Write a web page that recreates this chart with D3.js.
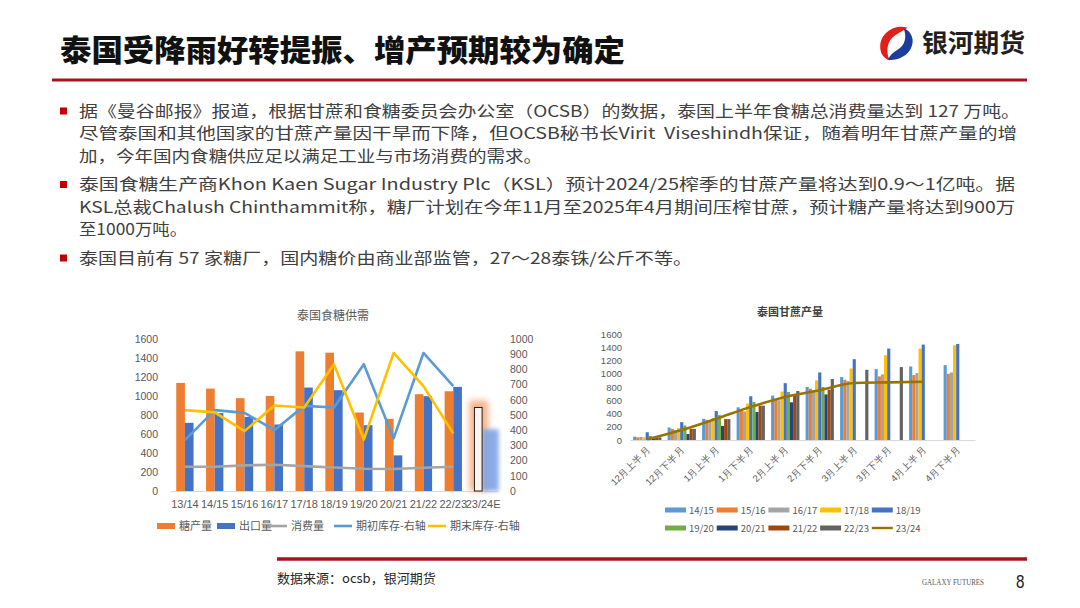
<!DOCTYPE html>
<html>
<head>
<meta charset="utf-8">
<script src="https://cdn.jsdelivr.net/npm/d3@7"></script>
<style>
  html, body { margin: 0; padding: 0; background: #fff; }
  svg { display: block; font-family: "Microsoft YaHei", "Noto Sans CJK SC", "Noto Sans", sans-serif; }
</style>
</head>
<body>
<svg id="page" width="1080" height="608"></svg>
<script>
// ---------- page text ----------
const pageTitle = "泰国受降雨好转提振、增产预期较为确定";
const logoText = "银河期货";
const paragraphs = [
  ["据《曼谷邮报》报道，根据甘蔗和食糖委员会办公室（OCSB）的数据，泰国上半年食糖总消费量达到 127 万吨。",
   "尽管泰国和其他国家的甘蔗产量因干旱而下降，但OCSB秘书长Virit  Viseshindh保证，随着明年甘蔗产量的增",
   "加，今年国内食糖供应足以满足工业与市场消费的需求。"],
  ["泰国食糖生产商Khon Kaen Sugar Industry Plc（KSL）预计2024/25榨季的甘蔗产量将达到0.9～1亿吨。据",
   "KSL总裁Chalush Chinthammit称，糖厂计划在今年11月至2025年4月期间压榨甘蔗，预计糖产量将达到900万",
   "至1000万吨。"],
  ["泰国目前有 57 家糖厂，国内糖价由商业部监管，27～28泰铢/公斤不等。"]
];
// visible line widths (justified lines run to the right margin)
const lineWidths = [[941, 938, 463], [936, 936, 108], [613]];
const sourceText = "数据来源：ocsb，银河期货";
const pageNumber = "8";

// ---------- left chart: 泰国食糖供需 ----------
const supplyTitle = "泰国食糖供需";
const seasons = ["13/14", "14/15", "15/16", "16/17", "17/18", "18/19", "19/20", "20/21", "21/22", "22/23", "23/24E"];
const sugarOutput = [1138, 1078, 977, 1001, 1470, 1456, 826, 760, 1019, 1050, 879];
const sugarExport = [718, 820, 780, 700, 1089, 1061, 693, 375, 998, 1096, 650];
const consumption = [255, 255, 270, 277, 262, 248, 234, 231, 245, 255, null];
const openStock = [335, 532, 514, 400, 560, 549, 834, 346, 908, 690, null];
const closeStock = [532, 517, 394, 563, 549, 834, 339, 908, 690, 379, null];
const leftTicks = [0, 200, 400, 600, 800, 1000, 1200, 1400, 1600];
const rightTicks = [0, 100, 200, 300, 400, 500, 600, 700, 800, 900, 1000];
const supplyLegend = ["糖产量", "出口量", "消费量", "期初库存-右轴", "期末库存-右轴"];

// ---------- right chart: 泰国甘蔗产量 ----------
const caneTitle = "泰国甘蔗产量";
const halfMonths = ["12月上半月", "12月下半月", "1月上半月", "1月下半月", "2月上半月",
                    "2月下半月", "3月上半月", "3月下半月", "4月上半月", "4月下半月"];
const caneSeasons = ["14/15", "15/16", "16/17", "17/18", "18/19", "19/20", "20/21", "21/22", "22/23"];
const cane1415 = [50, 188, 320, 493, 670, 800, 950, 1070, 1110, 1130];
const cane1516 = [40, 168, 305, 457, 610, 775, 910, 960, 980, 1000];
const cane1617 = [45, 150, 275, 432, 600, 745, 890, 990, 1010, 1020];
const cane1718 = [40, 178, 330, 549, 731, 900, 1080, 1280, 1380, 1430];
const cane1819 = [117, 270, 437, 660, 858, 1020, 1220, 1380, 1440, 1450];
const cane1920 = [60, 218, 376, 574, 725, 800, null, null, null, null];
const cane2021 = [25, 90, 213, 422, 569, 688, null, null, null, null];
const cane2122 = [30, 168, 315, 518, 680, 760, null, null, null, null];
const cane2223 = [40, 168, 315, 518, 740, 920, 1060, 1100, null, null];
const cane2324 = [10, 150, 320, 500, 650, 750, 860, 870, 880, null];
const caneTicks = [0, 200, 400, 600, 800, 1000, 1200, 1400, 1600];

const caneBars = [cane1415, cane1516, cane1617, cane1718, cane1819, cane1920, cane2021, cane2122, cane2223];
const caneColors = ["#5B9BD5", "#ED7D31", "#A5A5A5", "#FFC000", "#4472C4", "#70AD47", "#264478", "#9E480E", "#636363"];
const lineColor2324 = "#997300";

const svg = d3.select("#page");
const red = "#A8141C";
const labelGray = "#595959";
const fmt = d3.format("d");

const defs = svg.append("defs");
defs.append("filter").attr("id", "blurBig").attr("x", "-80%").attr("y", "-30%").attr("width", "260%").attr("height", "160%")
  .append("feGaussianBlur").attr("stdDeviation", 3.2);
defs.append("filter").attr("id", "blurSmall").attr("x", "-80%").attr("y", "-30%").attr("width", "260%").attr("height", "160%")
  .append("feGaussianBlur").attr("stdDeviation", 2.2);

// ---------- header ----------
svg.append("text")
  .attr("x", 60).attr("y", 61)
  .attr("font-size", 30).attr("font-weight", 900)
  .attr("fill", "#111")
  .attr("textLength", 565).attr("lengthAdjust", "spacingAndGlyphs")
  .text(pageTitle);

svg.append("line").attr("x1", 52).attr("x2", 1027).attr("y1", 80).attr("y2", 80)
  .attr("stroke", red).attr("stroke-width", 3);

// logo swirl
const logo = svg.append("g").attr("transform", "translate(896,43) rotate(-10)");
logo.append("path")
  .attr("d", "M14,-13 C4,-19 -13,-14 -16,0 C-18,8 -14,14 -9,16 C-12,8 -9,-4 1,-8 C6,-10 10,-11 14,-13 Z")
  .attr("fill", "#E0201B");
logo.append("path")
  .attr("d", "M-11,15 C0,19 16,13 17,-1 C17,-7 14,-11 10,-13 C12,-5 9,4 0,7 C-5,9 -8,11 -11,15 Z")
  .attr("fill", "#1D3D9C");
svg.append("text")
  .attr("x", 922).attr("y", 52)
  .attr("font-size", 25).attr("font-weight", 700)
  .attr("fill", "#231F20")
  .attr("textLength", 103).attr("lengthAdjust", "spacingAndGlyphs")
  .text(logoText);

// ---------- bullets ----------
const lineGap = 22.5, paraGap = 28.5;
let cy = 111;
paragraphs.forEach((lines, p) => {
  svg.append("rect").attr("x", 60).attr("y", cy - 3.5).attr("width", 7).attr("height", 7).attr("fill", "#C00000");
  lines.forEach((t, i) => {
    const last = i === lines.length - 1;
    svg.append("text")
      .attr("x", 79).attr("y", cy + 5.5)
      .attr("font-size", 15.5)
      .attr("fill", "#404040")
      .style("white-space", "pre")
      .attr("textLength", lineWidths[p][i]).attr("lengthAdjust", "spacingAndGlyphs")
      .text(t);
    cy += last ? paraGap : lineGap;
  });
});

// ---------- left chart ----------
const L = svg.append("g");
const xL = d3.scaleBand().domain(seasons).range([170, 498]).paddingInner(0.42).paddingOuter(0.21);
const xLs = d3.scaleBand().domain(["out", "exp"]).range([0, xL.bandwidth()]);
const yL = d3.scaleLinear().domain([0, 1600]).range([491, 339]);
const yLR = d3.scaleLinear().domain([0, 1000]).range([491, 339]);

L.append("text").attr("x", 333).attr("y", 320).attr("text-anchor", "middle")
  .attr("font-size", 12).attr("fill", labelGray).text(supplyTitle);

L.append("g").attr("transform", "translate(162,0)")
  .call(d3.axisLeft(yL).tickValues(leftTicks).tickFormat(fmt).tickSize(0).tickPadding(4))
  .call(g => g.select(".domain").remove())
  .call(g => g.selectAll("text").attr("font-size", 10.5).attr("fill", labelGray).attr("font-family", "inherit"));

L.append("g").attr("transform", "translate(510,0)")
  .call(d3.axisRight(yLR).tickValues(rightTicks).tickFormat(fmt).tickSize(0).tickPadding(0))
  .call(g => g.select(".domain").remove())
  .call(g => g.selectAll("text").attr("font-size", 10.5).attr("fill", labelGray).attr("font-family", "inherit"));

L.append("g").attr("transform", "translate(0,491)")
  .call(d3.axisBottom(xL).tickSize(0).tickPadding(9).tickSizeOuter(0))
  .call(g => g.select(".domain").attr("stroke", "#D9D9D9"))
  .call(g => g.selectAll("text").attr("font-size", 11).attr("fill", labelGray).attr("font-family", "inherit"));

const lastSeason = seasons[seasons.length - 1];
const solidIdx = seasons.map((s, i) => i).filter(i => seasons[i] !== lastSeason);

// estimated season: glowing bars
const iE = seasons.length - 1;
L.append("rect")
  .attr("x", xL(lastSeason) + xLs("out") - 5).attr("y", yL(sugarOutput[iE]) - 7)
  .attr("width", xLs.bandwidth() + 10).attr("height", yL(0) - yL(sugarOutput[iE]) + 7)
  .attr("fill", "#F4A472").attr("opacity", 0.85).attr("filter", "url(#blurBig)");
L.append("rect")
  .attr("x", xL(lastSeason) + xLs("exp") - 1).attr("y", yL(sugarExport[iE]))
  .attr("width", xLs.bandwidth() + 8).attr("height", yL(0) - yL(sugarExport[iE]))
  .attr("fill", "#7FA3E6").attr("opacity", 0.9).attr("filter", "url(#blurSmall)");
L.append("rect")
  .attr("x", xL(lastSeason) + xLs("out")).attr("y", yL(sugarOutput[iE]))
  .attr("width", xLs.bandwidth() - 1).attr("height", yL(0) - yL(sugarOutput[iE]))
  .attr("fill", "#fff").attr("fill-opacity", 0.85).attr("stroke", "#222").attr("stroke-width", 1);

L.selectAll(".bo").data(solidIdx).join("rect")
  .attr("x", i => xL(seasons[i]) + xLs("out")).attr("y", i => yL(sugarOutput[i]))
  .attr("width", xLs.bandwidth()).attr("height", i => yL(0) - yL(sugarOutput[i]))
  .attr("fill", "#ED7D31");
L.selectAll(".be").data(solidIdx).join("rect")
  .attr("x", i => xL(seasons[i]) + xLs("exp")).attr("y", i => yL(sugarExport[i]))
  .attr("width", xLs.bandwidth()).attr("height", i => yL(0) - yL(sugarExport[i]))
  .attr("fill", "#4472C4");

const cx = s => xL(s) + xL.bandwidth() / 2;
const drawLine = (vals, scale, color) => {
  L.append("path")
    .datum(vals.map((v, i) => [seasons[i], v]))
    .attr("fill", "none").attr("stroke", color).attr("stroke-width", 2.6).attr("stroke-linejoin", "round")
    .attr("d", d3.line().defined(d => d[1] != null).x(d => cx(d[0])).y(d => scale(d[1])));
};
drawLine(consumption, yL, "#A5A5A5");
drawLine(openStock, yLR, "#5B9BD5");
drawLine(closeStock, yLR, "#FFC000");

// legend
const legL = [
  { x: 157, kind: "rect", color: "#ED7D31" },
  { x: 217, kind: "rect", color: "#4472C4" },
  { x: 269, kind: "line", color: "#A5A5A5" },
  { x: 334, kind: "line", color: "#5B9BD5" },
  { x: 428, kind: "line", color: "#FFC000" }
];
legL.forEach((d, i) => {
  if (d.kind === "rect") {
    L.append("rect").attr("x", d.x).attr("y", 523).attr("width", 18).attr("height", 6).attr("fill", d.color);
  } else {
    L.append("line").attr("x1", d.x).attr("x2", d.x + 18).attr("y1", 526).attr("y2", 526)
      .attr("stroke", d.color).attr("stroke-width", 2.6);
  }
  L.append("text").attr("x", d.x + 22).attr("y", 530).attr("font-size", 11).attr("fill", labelGray)
    .text(supplyLegend[i]);
});

// ---------- right chart ----------
const R = svg.append("g");
const xR = d3.scaleBand().domain(halfMonths).range([630, 975]).paddingInner(0.18).paddingOuter(0.09);
const xRs = d3.scaleBand().domain(caneSeasons).range([0, xR.bandwidth()]);
const yR = d3.scaleLinear().domain([0, 1600]).range([440, 334]);

R.append("text").attr("x", 790).attr("y", 316).attr("text-anchor", "middle")
  .attr("font-size", 11).attr("font-weight", 700).attr("fill", "#404040").text(caneTitle);

R.append("g").attr("transform", "translate(626,0)")
  .call(d3.axisLeft(yR).tickValues(caneTicks).tickFormat(fmt).tickSize(0).tickPadding(4))
  .call(g => g.select(".domain").remove())
  .call(g => g.selectAll("text").attr("font-size", 9.5).attr("fill", labelGray).attr("font-family", "inherit"));

caneBars.forEach((vals, s) => {
  R.append("g").selectAll("rect")
    .data(vals.map((v, i) => [halfMonths[i], v]).filter(d => d[1] != null))
    .join("rect")
    .attr("x", d => xR(d[0]) + xRs(caneSeasons[s])).attr("y", d => yR(d[1]))
    .attr("width", xRs.bandwidth()).attr("height", d => yR(0) - yR(d[1]))
    .attr("fill", caneColors[s]);
});

R.append("g").attr("transform", "translate(0,440)")
  .call(d3.axisBottom(xR).tickSize(0).tickSizeOuter(0))
  .call(g => g.select(".domain").attr("stroke", "#D9D9D9"))
  .call(g => g.selectAll("text")
    .attr("font-size", 9.5).attr("fill", labelGray).attr("font-family", "inherit")
    .attr("x", 0).attr("y", 0).attr("dy", "0.35em")
    .attr("transform", "translate(1,8) rotate(-45)")
    .style("text-anchor", "end"));

R.append("path")
  .datum(cane2324.map((v, i) => [halfMonths[i], v]))
  .attr("fill", "none").attr("stroke", lineColor2324).attr("stroke-width", 2.6)
  .attr("d", d3.line().defined(d => d[1] != null)
    .x(d => xR(d[0]) + xR.bandwidth() / 2).y(d => yR(d[1])).curve(d3.curveMonotoneX));

// legend (two rows)
const legendSeasons = caneSeasons.concat(["23/24"]);
const legendColors = caneColors.concat([lineColor2324]);
legendSeasons.forEach((name, i) => {
  const col = i % 5, row = Math.floor(i / 5);
  const lx = 665 + col * 51.7, ly = 510 + row * 18;
  if (i < caneSeasons.length) {
    R.append("rect").attr("x", lx).attr("y", ly - 2.5).attr("width", 21).attr("height", 5).attr("fill", legendColors[i]);
  } else {
    R.append("line").attr("x1", lx).attr("x2", lx + 21).attr("y1", ly).attr("y2", ly)
      .attr("stroke", legendColors[i]).attr("stroke-width", 2.4);
  }
  R.append("text").attr("x", lx + 24).attr("y", ly + 3.5).attr("font-size", 9.5).attr("fill", labelGray).text(name);
});

// ---------- footer ----------
svg.append("line").attr("x1", 277).attr("x2", 1027).attr("y1", 559).attr("y2", 559)
  .attr("stroke", red).attr("stroke-width", 3.5);
svg.append("text").attr("x", 277).attr("y", 583).attr("font-size", 13).attr("fill", "#262626").text(sourceText);
svg.append("text").attr("x", 922).attr("y", 585).attr("font-size", 7.5)
  .attr("font-family", "Liberation Serif, serif").attr("fill", "#555")
  .attr("textLength", 62).attr("lengthAdjust", "spacingAndGlyphs").text("GALAXY FUTURES");
svg.append("text").attr("x", 1016).attr("y", 588).attr("font-size", 19)
  .attr("font-family", "Liberation Sans, sans-serif").attr("fill", "#222")
  .attr("transform", "translate(1016,0) scale(0.8,1) translate(-1016,0)").text(pageNumber);
</script>
</body>
</html>
